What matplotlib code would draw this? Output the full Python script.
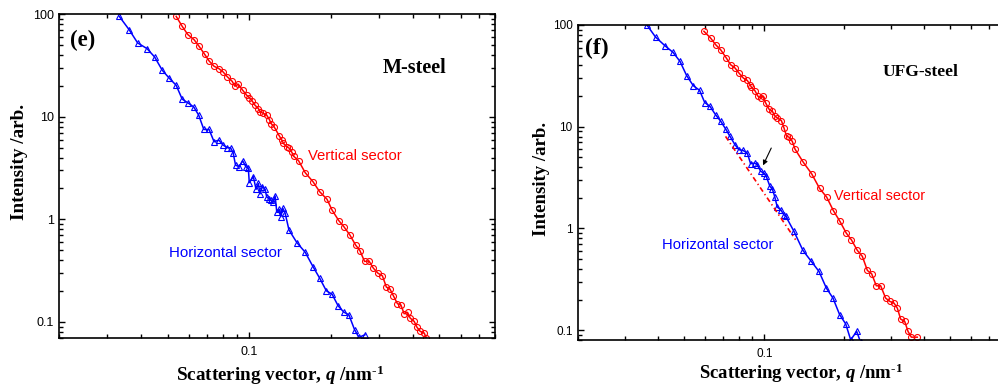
import matplotlib
matplotlib.use("Agg")
import matplotlib.pyplot as plt
from matplotlib import ticker

plt.rcParams["mathtext.fontset"] = "custom"
plt.rcParams["mathtext.rm"] = "Liberation Serif:bold"
plt.rcParams["mathtext.it"] = "Liberation Serif:italic:bold"
plt.rcParams["mathtext.bf"] = "Liberation Serif:bold"

SERIF = "Liberation Serif"
SANS = "Liberation Sans"
RED = "#ff0000"
BLUE = "#0000ff"

# ---- (e) M-steel ----
m_vert_q = [0.0538, 0.0566, 0.0594, 0.0626, 0.0653, 0.0685, 0.0711, 0.0742, 0.0772, 0.0801,
            0.0831, 0.0865, 0.0885, 0.0911, 0.0945, 0.0977, 0.1000, 0.1026, 0.1049, 0.1080,
            0.1095, 0.1127, 0.1159, 0.1186, 0.1203, 0.1234, 0.1291, 0.1318, 0.1336, 0.1375,
            0.1406, 0.1435, 0.1455, 0.1519, 0.1607, 0.1716, 0.1816, 0.1933, 0.2018, 0.2136,
            0.2229, 0.2345, 0.2462, 0.2554, 0.2658, 0.2758, 0.2863, 0.2978, 0.3092, 0.3198,
            0.3289, 0.3396, 0.3514, 0.3614, 0.3718, 0.3826, 0.3914, 0.4049, 0.4141, 0.4262,
            0.4409, 0.4480]
m_vert_i = [95.5, 76.4, 63.4, 56.6, 48.8, 40.7, 35.1, 31.1, 29.6, 27.4,
            24.5, 22.2, 19.9, 20.8, 18.2, 16.3, 15.4, 14.2, 13.0, 12.05,
            11.2, 10.8, 10.4, 9.4, 8.6, 8.0, 6.48, 5.93, 5.50, 5.10,
            4.92, 4.50, 4.14, 3.73, 2.85, 2.33, 1.86, 1.57, 1.23, 0.971,
            0.849, 0.705, 0.563, 0.496, 0.388, 0.393, 0.334, 0.298, 0.281, 0.218,
            0.211, 0.179, 0.150, 0.1466, 0.120, 0.1236, 0.1087, 0.1009, 0.0889, 0.0806,
            0.0777, 0.0700]
m_horz_q = [0.0332, 0.0361, 0.0388, 0.0420, 0.0448, 0.0478, 0.0506, 0.0538, 0.0566, 0.0594,
            0.0624, 0.0651, 0.0680, 0.0711, 0.0742, 0.0772, 0.0801, 0.0831, 0.0853, 0.0872,
            0.0890, 0.0918, 0.0945, 0.0972, 0.0992, 0.1000, 0.1035, 0.1059, 0.1080, 0.1095,
            0.1117, 0.1143, 0.1159, 0.1186, 0.1200, 0.1220, 0.1245, 0.1262, 0.1291, 0.1306,
            0.1329, 0.1355, 0.1400, 0.1497, 0.1607, 0.1716, 0.1816, 0.1922, 0.2018, 0.2124,
            0.2229, 0.2326, 0.2442, 0.2533, 0.2667]
m_horz_i = [95.5, 70.8, 52.6, 46.3, 38.4, 28.5, 24.0, 20.3, 14.9, 13.7,
            12.5, 10.4, 7.53, 7.53, 5.71, 5.93, 5.30, 4.99, 4.99, 4.46,
            3.38, 3.26, 3.73, 3.26, 3.14, 2.28, 2.61, 1.96, 2.24, 1.77,
            2.08, 1.96, 1.66, 1.57, 1.54, 1.46, 1.69, 1.19, 1.25, 1.06,
            1.28, 1.15, 0.788, 0.593, 0.477, 0.346, 0.267, 0.2007, 0.186, 0.1433,
            0.1244, 0.1172, 0.0838, 0.0705, 0.0748]

# ---- (f) UFG-steel ----
u_vert_q = [0.0593, 0.0628, 0.0656, 0.0685, 0.0720, 0.0747, 0.0776, 0.0803, 0.0834, 0.0863,
            0.0884, 0.0894, 0.0922, 0.0947, 0.0969, 0.0989, 0.1012, 0.1041, 0.1072, 0.1094,
            0.1119, 0.1159, 0.1186, 0.1213, 0.1238, 0.1274, 0.1304, 0.1402, 0.1506, 0.1614,
            0.1716, 0.1817, 0.1925, 0.2033, 0.2124, 0.2237, 0.2336, 0.2440, 0.2532, 0.2636,
            0.2737, 0.2858, 0.2965, 0.3072, 0.3162, 0.3255, 0.3371, 0.3469, 0.3569, 0.3758]
u_vert_i = [86.7, 74.5, 64.1, 57.2, 47.3, 40.7, 37.8, 33.7, 30.1, 28.5,
            25.9, 24.5, 22.6, 19.9, 19.1, 19.9, 17.1, 14.9, 14.2, 12.8,
            12.2, 11.5, 9.70, 8.03, 7.91, 7.17, 6.03, 4.46, 3.45, 2.47,
            2.03, 1.50, 1.17, 0.899, 0.774, 0.608, 0.531, 0.386, 0.358, 0.273,
            0.273, 0.2064, 0.1914, 0.1845, 0.1645, 0.1283, 0.1217, 0.0971, 0.0853, 0.0853]
u_horz_q = [0.0363, 0.0390, 0.0423, 0.0454, 0.0482, 0.0511, 0.0541, 0.0571, 0.0597, 0.0625,
            0.0656, 0.0686, 0.0716, 0.0743, 0.0776, 0.0803, 0.0831, 0.0863, 0.0888, 0.0920,
            0.0941, 0.0969, 0.0997, 0.1017, 0.1050, 0.1072, 0.1094, 0.1119, 0.1152, 0.1186,
            0.1202, 0.1293, 0.1397, 0.1502, 0.1605, 0.1711, 0.1812, 0.1920, 0.2022, 0.2112,
            0.2224, 0.2302]
u_horz_i = [99.0, 76.2, 62.6, 53.8, 43.9, 31.7, 25.3, 22.8, 17.3, 15.85,
            13.1, 11.3, 9.48, 8.04, 6.65, 5.94, 5.85, 5.51, 4.33, 4.39,
            4.23, 3.64, 3.50, 3.25, 2.59, 2.44, 2.06, 1.62, 1.53, 1.36,
            1.33, 0.934, 0.608, 0.474, 0.378, 0.259, 0.2064, 0.1416, 0.1154, 0.0803,
            0.0971, 0.0760]

# power-law guide and arrow in (f)
u_fit_q = [0.0715, 0.1311]
u_fit_i = [8.03, 0.774]
arrow_tail = (0.1062, 6.17)
arrow_head = (0.0989, 4.17)

XLIM = (0.02, 0.8)
XLABEL = r"Scattering vector, $\mathit{q}$ /nm$^{\text{-}1}$"
YLABEL = "Intensity /arb."


def style_axes(ax, ylim, tick_size, label_size, ylabel_xy, xlabel_xy):
    ax.set_xscale("log")
    ax.set_yscale("log")
    ax.set_xlim(*XLIM)
    ax.set_ylim(*ylim)
    for sp in ax.spines.values():
        sp.set_linewidth(1.2)
    ax.xaxis.set_major_locator(ticker.LogLocator(base=10))
    ax.xaxis.set_minor_locator(ticker.LogLocator(base=10, subs=range(2, 10)))
    ax.yaxis.set_major_locator(ticker.LogLocator(base=10))
    ax.yaxis.set_minor_locator(ticker.LogLocator(base=10, subs=range(2, 10)))
    fmt = ticker.FuncFormatter(lambda v, p: f"{v:g}")
    ax.xaxis.set_major_formatter(fmt)
    ax.yaxis.set_major_formatter(fmt)
    ax.xaxis.set_minor_formatter(ticker.NullFormatter())
    ax.yaxis.set_minor_formatter(ticker.NullFormatter())
    ax.tick_params(which="both", direction="in", top=True, right=True, width=1.0)
    ax.tick_params(which="major", length=4.5)
    ax.tick_params(which="minor", length=2.6)
    ax.tick_params(axis="x", which="major", pad=6)
    ax.tick_params(axis="y", which="major", pad=4)
    for lab in ax.get_xticklabels() + ax.get_yticklabels():
        lab.set_fontfamily(SANS)
        lab.set_fontsize(tick_size)
    ax.set_ylabel(YLABEL, fontfamily=SERIF, fontweight="bold", fontsize=label_size)
    ax.yaxis.set_label_coords(*ylabel_xy)
    ax.text(xlabel_xy[0], xlabel_xy[1], XLABEL,
            transform=ax.transAxes, ha="center", va="baseline",
            fontfamily=SERIF, fontweight="bold", fontsize=label_size)


def draw_series(ax, vq, vi, hq, hi):
    ax.plot(vq, vi, color=RED, lw=1.1, marker="o", ms=4.3, mfc="none", mew=0.8)
    ax.plot(hq, hi, color=BLUE, lw=1.1, marker="^", ms=4.8, mfc="none", mew=0.8)


fig = plt.figure(figsize=(9.98, 3.90), dpi=100)

# left panel (e)
ax1 = fig.add_axes([0.0596, 0.1341, 0.4359, 0.8292])
draw_series(ax1, m_vert_q, m_vert_i, m_horz_q, m_horz_i)
style_axes(ax1, (0.07, 100), 9, 13.8, (-0.072, 0.542), (0.506, -0.134))
ax1.text(0.024, 0.9205, "(e)", transform=ax1.transAxes, ha="left", va="center",
         fontfamily=SERIF, fontweight="bold", fontsize=16.5)
ax1.text(0.7437, 0.834, "M-steel", transform=ax1.transAxes, ha="left", va="center",
         fontfamily=SERIF, fontweight="bold", fontsize=14.5)
ax1.text(0.571, 0.562, "Vertical sector", transform=ax1.transAxes, ha="left", va="center",
         fontfamily=SANS, fontsize=10.7, color=RED)
ax1.text(0.2517, 0.262, "Horizontal sector", transform=ax1.transAxes, ha="left", va="center",
         fontfamily=SANS, fontsize=10.8, color=BLUE)

# right panel (f)
ax2 = fig.add_axes([0.5795, 0.1282, 0.4271, 0.8077])
draw_series(ax2, u_vert_q, u_vert_i, u_horz_q, u_horz_i)
ax2.plot(u_fit_q, u_fit_i, color=RED, lw=1.2, linestyle=(0, (3.0, 1.8, 0.8, 1.8)))
ax2.annotate("", xy=arrow_head, xytext=arrow_tail,
             arrowprops=dict(arrowstyle="-|>", color="black", lw=0.8,
                             mutation_scale=7, shrinkA=0, shrinkB=0))
style_axes(ax2, (0.08, 100), 8.5, 13.5, (-0.067, 0.512), (0.5225, -0.125))
ax2.text(0.0157, 0.924, "(f)", transform=ax2.transAxes, ha="left", va="center",
         fontfamily=SERIF, fontweight="bold", fontsize=17)
ax2.text(0.7147, 0.851, "UFG-steel", transform=ax2.transAxes, ha="left", va="center",
         fontfamily=SERIF, fontweight="bold", fontsize=12.6)
ax2.text(0.5995, 0.457, "Vertical sector", transform=ax2.transAxes, ha="left", va="center",
         fontfamily=SANS, fontsize=10.4, color=RED)
ax2.text(0.1958, 0.3016, "Horizontal sector", transform=ax2.transAxes, ha="left", va="center",
         fontfamily=SANS, fontsize=10.6, color=BLUE)

fig.savefig("out.png", dpi=100)
